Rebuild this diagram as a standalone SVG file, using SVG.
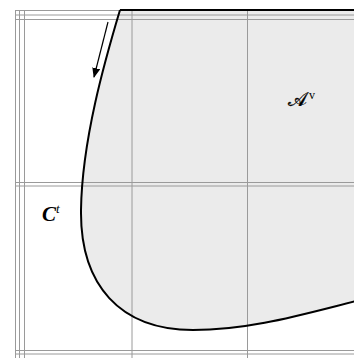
<svg xmlns="http://www.w3.org/2000/svg" width="354" height="358" viewBox="0 0 354 358">
<defs>
<style>
.grid line{stroke:#9a9a9a;stroke-width:1}
.lbl{font-family:"Liberation Serif","DejaVu Serif",serif;fill:#000}
</style>
<marker id="ah" markerWidth="10" markerHeight="8" refX="9" refY="4" orient="auto" markerUnits="userSpaceOnUse">
<path d="M0,0 L10,4 L0,8 Z" fill="#000"/>
</marker>
</defs>
<g id="region">
<path d="M120,10 C105,60 82,140 81,210 C80,285 120,330 193,330 C250,330 300,315 360,300 L360,10 Z" fill="#ebebeb"/>
</g>
<g id="grid" class="grid">
<line x1="15.5" y1="10" x2="15.5" y2="358"/>
<line x1="19.5" y1="10" x2="19.5" y2="358"/>
<line x1="24.5" y1="10" x2="24.5" y2="358"/>
<line x1="132" y1="10" x2="132" y2="358"/>
<line x1="247.5" y1="10" x2="247.5" y2="358"/>
<line x1="15" y1="10.5" x2="354" y2="10.5"/>
<line x1="15" y1="15" x2="354" y2="15"/>
<line x1="15" y1="19.5" x2="354" y2="19.5"/>
<line x1="15" y1="182.5" x2="354" y2="182.5"/>
<line x1="15" y1="186" x2="354" y2="186"/>
<line x1="15" y1="350.5" x2="354" y2="350.5"/>
<line x1="15" y1="354" x2="354" y2="354"/>
</g>
<g id="boundary">
<path d="M120,10 C105,60 82,140 81,210 C80,285 120,330 193,330 C250,330 300,315 360,300" fill="none" stroke="#000" stroke-width="2"/>
<line x1="120" y1="10" x2="354" y2="10" stroke="#000" stroke-width="2"/>
</g>
<g id="connectors">
<line x1="108" y1="22" x2="94" y2="77" stroke="#000" stroke-width="1.2" marker-end="url(#ah)"/>
</g>
<g id="label-A">
<text x="288" y="106" font-size="20" font-family="'DejaVu Sans','Noto Sans',serif" stroke="#000" stroke-width="0.3">𝒜</text>
<text class="lbl" x="309" y="99" font-size="12">v</text>
</g>
<g id="label-C">
<text class="lbl" x="42" y="221" font-size="21" font-style="italic" font-weight="bold">C<tspan font-size="13" dy="-8" font-weight="normal">t</tspan></text>
</g>
</svg>
